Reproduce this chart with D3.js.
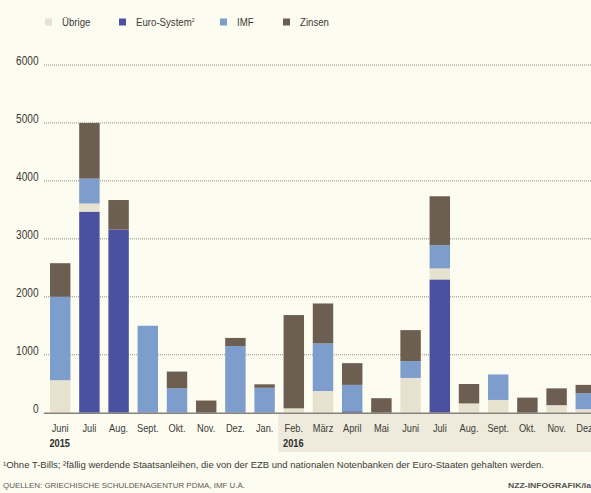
<!DOCTYPE html>
<html>
<head>
<meta charset="utf-8">
<script src="https://cdn.jsdelivr.net/npm/d3@7/dist/d3.min.js"></script>
<style>
  html, body { margin: 0; padding: 0; background: #fdfcf0; }
  svg { display: block; }
  text { font-family: "Liberation Sans", Arial, sans-serif; fill: #3b3a36; }
</style>
</head>
<body>
<svg id="chart" width="591" height="493"></svg>
<script>
// Monthly redemptions of Greek debt, Mio. €
const months = ["Juni", "Juli", "Aug.", "Sept.", "Okt.", "Nov.", "Dez.", "Jan.", "Feb.", "März", "April", "Mai", "Juni", "Juli", "Aug.", "Sept.", "Okt.", "Nov.", "Dez."];
const years = [{ label: "2015", index: 0 }, { label: "2016", index: 8 }];

const euroSystem = [0, 3470, 3160, 0, 0, 0, 0, 0, 0, 0, 25, 0, 0, 2300, 0, 0, 0, 0, 0];
const uebrige    = [560, 140, 0, 0, 0, 0, 0, 0, 75, 375, 0, 0, 600, 190, 160, 220, 0, 130, 60];
const imf        = [1440, 430, 0, 1500, 420, 0, 1150, 430, 0, 820, 455, 0, 290, 400, 0, 440, 0, 0, 275];
const zinsen     = [580, 960, 510, 0, 290, 210, 140, 60, 1610, 690, 375, 250, 535, 845, 335, 0, 260, 290, 145];

const seriesKeys = ["euro", "uebrige", "imf", "zinsen"];
const legendItems = [
  { key: "uebrige", label: "Übrige" },
  { key: "euro", label: "Euro-System", sup: "2" },
  { key: "imf", label: "IMF" },
  { key: "zinsen", label: "Zinsen" }
];
const colors = { uebrige: "#e7e1d0", euro: "#4b51a0", imf: "#7d9dcd", zinsen: "#6c5f51" };

const yTicks = [0, 1000, 2000, 3000, 4000, 5000, 6000];

const footnote = "\u00b9Ohne T-Bills; \u00b2fällig werdende Staatsanleihen, die von der EZB und nationalen Notenbanken der Euro-Staaten gehalten werden.";
const source = "QUELLEN: GRIECHISCHE SCHULDENAGENTUR PDMA, IMF U.Ä.";
const credit = "NZZ-INFOGRAFIK/la";

const rows = months.map((m, i) => ({
  i: String(i), month: m,
  euro: euroSystem[i], uebrige: uebrige[i], imf: imf[i], zinsen: zinsen[i]
}));

const svg = d3.select("#chart");
const W = 591;
const NARROW = 0.84; // horizontal squeeze to get a condensed face

const x = d3.scaleBand()
  .domain(rows.map(d => d.i))
  .range([45.6, 45.6 + 29.2 * months.length])
  .paddingInner(0.3)
  .paddingOuter(0.15);

const y = d3.scaleLinear().domain([0, 6000]).range([412.7, 65]);

// place a condensed text at (px, py)
function narrowText(parent, px, py, str, size, anchor) {
  return parent.append("text")
    .attr("transform", `translate(${px},${py}) scale(${NARROW},1)`)
    .attr("text-anchor", anchor || "start")
    .style("font-size", size + "px")
    .text(str);
}

// shaded label band for 2016
const bandLeft = x("8") - x.step() * 0.15 - 1;
svg.append("rect")
  .attr("x", bandLeft)
  .attr("y", 414)
  .attr("width", W - bandLeft)
  .attr("height", 38)
  .attr("fill", "#eeeadc");

// dotted gridlines
svg.append("g").selectAll("line")
  .data(yTicks.filter(t => t > 0))
  .join("line")
  .attr("x1", 44).attr("x2", W)
  .attr("y1", d => y(d)).attr("y2", d => y(d))
  .attr("stroke", "#8f8c80")
  .attr("stroke-width", 1)
  .attr("stroke-dasharray", "1,1");

// y axis labels
const yAxis = d3.axisLeft(y).tickValues(yTicks).tickSize(0).tickPadding(0).tickFormat(d3.format("d"));
const gy = svg.append("g").attr("transform", "translate(38.5,0)").call(yAxis);
gy.select(".domain").remove();
gy.selectAll("text")
  .attr("x", 0)
  .attr("dy", "-0.5")
  .attr("transform", `scale(${NARROW},1)`)
  .attr("font-family", null)
  .style("font-size", "12px")
  .style("fill", "#3b3a36");

// stacked bars
const stacked = d3.stack().keys(seriesKeys)(rows);

svg.append("g").selectAll("g")
  .data(stacked)
  .join("g")
  .attr("fill", s => colors[s.key])
  .selectAll("rect")
  .data(s => s.filter(d => d[1] - d[0] > 0))
  .join("rect")
  .attr("x", d => x(d.data.i))
  .attr("width", x.bandwidth())
  .attr("y", d => y(d[1]))
  .attr("height", d => y(d[0]) - y(d[1]));

// baseline
svg.append("line")
  .attr("x1", 44).attr("x2", W)
  .attr("y1", y(0) + 0.5).attr("y2", y(0) + 0.5)
  .attr("stroke", "#85827a")
  .attr("stroke-width", 1.6);

// month labels
const xAxis = d3.axisBottom(x).tickSize(0).tickPadding(0).tickFormat(i => months[+i]);
const gx = svg.append("g").attr("transform", "translate(0,424)").call(xAxis);
gx.select(".domain").remove();
gx.selectAll("text")
  .attr("transform", `scale(${NARROW},1)`)
  .attr("font-family", null)
  .style("font-size", "11px")
  .style("fill", "#3b3a36");

// year labels
const yearG = svg.append("g");
years.forEach(d => {
  narrowText(yearG, x(String(d.index)) - 0.5, 446.5, d.label, 11)
    .style("font-weight", "bold")
    .style("fill", "#2e2d2a");
});

// legend
const legendX = [45, 119, 220, 283];
const lg = svg.append("g").selectAll("g")
  .data(legendItems)
  .join("g")
  .attr("transform", (d, i) => `translate(${legendX[i]},0)`);
lg.append("rect")
  .attr("x", 0).attr("y", 18.5)
  .attr("width", 7).attr("height", 7)
  .attr("fill", d => colors[d.key]);
const lt = lg.append("text")
  .attr("transform", `translate(17,26) scale(${NARROW},1)`)
  .style("font-size", "11.5px");
lt.append("tspan").text(d => d.label);
lt.filter(d => d.sup).append("tspan")
  .attr("dy", "-4")
  .style("font-size", "6px")
  .text(d => d.sup);

// footnote and source
svg.append("text")
  .attr("x", 3).attr("y", 468)
  .attr("textLength", 541)
  .attr("lengthAdjust", "spacingAndGlyphs")
  .style("font-size", "9px")
  .text(footnote);
svg.append("text")
  .attr("x", 3).attr("y", 488)
  .attr("textLength", 242)
  .attr("lengthAdjust", "spacingAndGlyphs")
  .style("font-size", "7.5px")
  .style("fill", "#5a5954")
  .text(source);
svg.append("text")
  .attr("x", 508).attr("y", 488)
  .attr("textLength", 83)
  .attr("lengthAdjust", "spacingAndGlyphs")
  .style("font-size", "8px")
  .style("font-weight", "bold")
  .style("fill", "#55544f")
  .text(credit);
</script>
</body>
</html>
